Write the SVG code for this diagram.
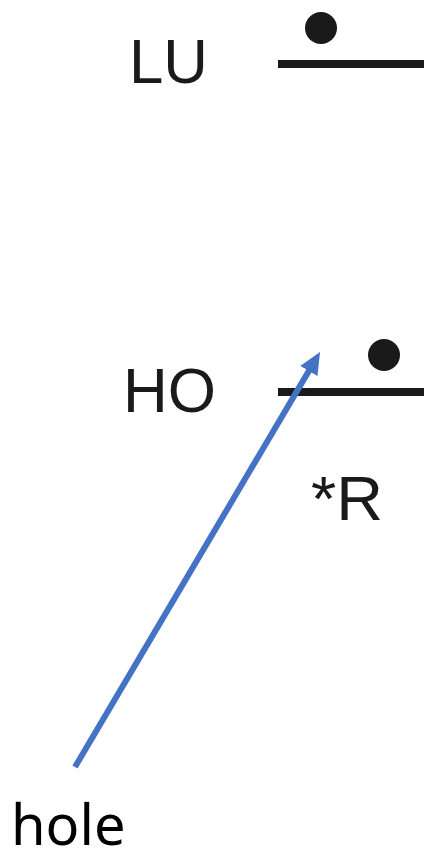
<svg xmlns="http://www.w3.org/2000/svg" width="424" height="861" viewBox="0 0 424 861">
<style>
.lbl{font-family:"Liberation Sans",Arial,sans-serif;font-size:63px;fill:#1a1a1a}
.lvl{stroke:#1a1a1a;stroke-width:8}
.e{fill:#1a1a1a}
.hole{font-family:"Noto Sans","Open Sans",sans-serif;font-size:56px;fill:#000}
</style>
<defs>
<marker id="ah" viewBox="0 0 22 20" refX="8" refY="10" markerWidth="22" markerHeight="20" orient="auto" markerUnits="userSpaceOnUse">
<path d="M0,0 L22,10 L0,20 z" fill="#4472C4"/>
</marker>
</defs>
<rect width="424" height="861" fill="#fff"/>
<g id="LU">
<text class="lbl" x="129" y="83" textLength="79" lengthAdjust="spacingAndGlyphs">LU</text>
<line class="lvl" x1="278" y1="64" x2="424" y2="64"/>
<circle class="e" cx="321" cy="28" r="16"/>
</g>
<g id="HO">
<text class="lbl" x="123" y="412" textLength="93" lengthAdjust="spacingAndGlyphs">HO</text>
<line class="lvl" x1="278" y1="392" x2="424" y2="392"/>
<circle class="e" cx="384" cy="355" r="16"/>
</g>
<g id="R">
<text class="lbl" x="311" y="520" textLength="72" lengthAdjust="spacingAndGlyphs">*R</text>
</g>
<g id="hole">
<text class="hole" x="11" y="845">hole</text>
</g>
<g id="connectors">
<line x1="75" y1="767" x2="312.9" y2="364.1" stroke="#4472C4" stroke-width="6" marker-end="url(#ah)"/>
</g>
</svg>
